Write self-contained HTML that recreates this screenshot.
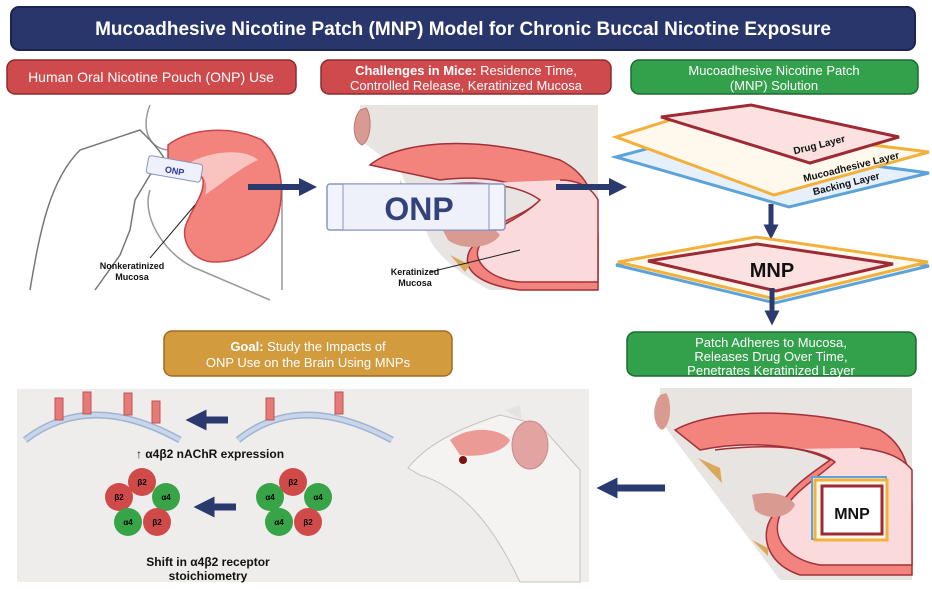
<!DOCTYPE html>
<html><head><style>
body{margin:0;background:#fff;width:932px;height:589px;overflow:hidden;font-family:"Liberation Sans",sans-serif}
svg{display:block}
text{font-family:"Liberation Sans",sans-serif}
</style></head><body>
<svg width="932" height="589" viewBox="0 0 932 589" xmlns="http://www.w3.org/2000/svg">
<defs>
<marker id="ah" viewBox="0 0 10 10" refX="5" refY="5" markerWidth="3" markerHeight="3" orient="auto"><path d="M0,0L10,5L0,10z" fill="#2a3a6e"/></marker>
</defs>
<!-- title -->
<rect x="11" y="7" width="904" height="43" rx="8" fill="#28366b" stroke="#1b2550" stroke-width="2"/>
<text x="463" y="35" text-anchor="middle" fill="#fff" font-size="19" font-weight="bold">Mucoadhesive Nicotine Patch (MNP) Model for Chronic Buccal Nicotine Exposure</text>
<!-- header boxes -->
<rect x="7" y="60" width="289" height="34" rx="8" fill="#cf4a4c" stroke="#8e2a2c" stroke-width="1.5"/>
<text x="151" y="82" text-anchor="middle" fill="#fff" font-size="14">Human Oral Nicotine Pouch (ONP) Use</text>
<rect x="321" y="60" width="290" height="34" rx="8" fill="#cf4a4c" stroke="#8e2a2c" stroke-width="1.5"/>
<text x="466" y="75" text-anchor="middle" fill="#fff" font-size="13"><tspan font-weight="bold">Challenges in Mice:</tspan> Residence Time,</text>
<text x="466" y="90" text-anchor="middle" fill="#fff" font-size="13">Controlled Release, Keratinized Mucosa</text>
<rect x="631" y="60" width="287" height="34" rx="8" fill="#33a14c" stroke="#1d6a30" stroke-width="1.5"/>
<text x="774" y="75" text-anchor="middle" fill="#fff" font-size="13">Mucoadhesive Nicotine Patch</text>
<text x="774" y="90" text-anchor="middle" fill="#fff" font-size="13">(MNP) Solution</text>

<!-- panel 1: human -->
<path d="M150,105 C140,130 150,150 170,150 M282,190 L282,290 M150,190 C140,220 170,260 200,270 L270,300" fill="none" stroke="#999" stroke-width="1.5"/>
<path d="M30,290 C40,230 50,180 80,150 L140,130 C150,140 160,150 165,160 L150,175 L135,200 L130,230 L120,255 L95,290" fill="#fff" stroke="#777" stroke-width="1.5"/>
<path d="M168,145 C190,128 230,125 262,140 C285,160 285,200 275,225 C265,250 240,262 215,262 C195,262 182,245 185,228 C190,210 205,195 203,180 C200,168 180,172 168,165 Z" fill="#f2837d" stroke="#c8464a" stroke-width="1.5"/>
<path d="M185,165 C210,150 245,148 258,160 C240,168 220,185 205,195 C210,180 200,170 185,165Z" fill="#f9c4c0"/>
<rect x="147" y="160" width="55" height="18" rx="3" fill="#eef1fb" stroke="#8a95c0" transform="rotate(10 175 169)"/>
<text x="175" y="174" text-anchor="middle" font-size="9" font-weight="bold" fill="#2a3a8a" transform="rotate(10 175 169)">ONP</text>
<line x1="150" y1="258" x2="195" y2="205" stroke="#222" stroke-width="1"/>
<text x="132" y="269" text-anchor="middle" font-size="9" font-weight="bold" fill="#111">Nonkeratinized</text>
<text x="132" y="280" text-anchor="middle" font-size="9" font-weight="bold" fill="#111">Mucosa</text>

<!-- panel 2: mouse mouth -->
<path d="M360,105 L598,105 L598,290 L490,290 C470,280 440,260 430,240 L400,170 L360,140 Z" fill="#e8e4e2"/>
<path d="M360,110 C352,120 352,140 362,145 C372,140 372,115 366,108Z" fill="#d99a92" stroke="#b77" />
<path d="M370,165 C400,140 480,135 560,160 C590,175 598,200 598,240 L598,290 L520,290 C480,285 460,270 470,250 C490,220 520,220 540,200 C520,180 480,175 440,180 Z" fill="#f2837d" stroke="#a23038" stroke-width="1.5"/>
<path d="M440,185 C480,180 520,185 540,200 C520,220 495,225 480,245 C470,260 490,280 520,282 L598,282 L598,200 C590,185 575,180 560,180" fill="#fadada" stroke="#a23038" stroke-width="1.5"/>
<path d="M440,225 C460,220 490,222 500,235 C490,250 460,250 448,240Z" fill="#d99a92"/>
<path d="M400,180 L410,200 L405,212Z M450,255 L470,265 L465,272Z" fill="#d9a85a"/>
<line x1="430" y1="272" x2="520" y2="250" stroke="#222" stroke-width="1"/>
<text x="415" y="275" text-anchor="middle" font-size="9" font-weight="bold" fill="#111">Keratinized</text>
<text x="415" y="286" text-anchor="middle" font-size="9" font-weight="bold" fill="#111">Mucosa</text>
<rect x="327" y="184" width="178" height="46" rx="3" fill="#f3f4fb" stroke="#8a95c0" stroke-width="1.5"/>
<rect x="343" y="184" width="146" height="46" fill="#eef0fa" stroke="#8a95c0" stroke-width="1"/>
<text x="419" y="220" text-anchor="middle" font-size="32" font-weight="bold" fill="#33427a">ONP</text>

<!-- arrows top -->
<line x1="248" y1="187" x2="308" y2="187" stroke="#2a3a6e" stroke-width="6" marker-end="url(#ah)"/>
<line x1="556" y1="187" x2="618" y2="187" stroke="#2a3a6e" stroke-width="6" marker-end="url(#ah)"/>

<!-- panel 3: layers -->
<polygon points="616,157 680,140 929,173 789,207" fill="#e6f0fa" stroke="#5ea3d8" stroke-width="3"/>
<polygon points="616,137 670,120 929,152 774,195" fill="#fff8ec" stroke="#f2b13d" stroke-width="3"/>
<polygon points="661,117 751,105 899,137 810,163" fill="#fbe2e0" stroke="#9e2a35" stroke-width="3"/>
<text x="820" y="148" text-anchor="middle" font-size="10" font-weight="bold" fill="#111" transform="rotate(-14 820 148)">Drug Layer</text>
<text x="852" y="170" text-anchor="middle" font-size="10" font-weight="bold" fill="#111" transform="rotate(-14 852 170)">Mucoadhesive Layer</text>
<text x="847" y="187" text-anchor="middle" font-size="10" font-weight="bold" fill="#111" transform="rotate(-14 847 187)">Backing Layer</text>
<line x1="771" y1="204" x2="771" y2="232" stroke="#2a3a6e" stroke-width="5" marker-end="url(#ah)"/>
<polygon points="616,265 756,240 929,266 775,303" fill="#e6f0fa" stroke="#5ea3d8" stroke-width="3"/>
<polygon points="618,262 756,237 928,262 775,299" fill="#fff8ec" stroke="#f2b13d" stroke-width="3"/>
<polygon points="648,261 757,244 893,264 776,291" fill="#fbe2e0" stroke="#9e2a35" stroke-width="3"/>
<text x="772" y="277" text-anchor="middle" font-size="20" font-weight="bold" fill="#111">MNP</text>
<line x1="772" y1="288" x2="772" y2="318" stroke="#2a3a6e" stroke-width="5" marker-end="url(#ah)"/>

<!-- second row boxes -->
<rect x="164" y="331" width="288" height="45" rx="8" fill="#d29b3d" stroke="#a36a22" stroke-width="1.5"/>
<text x="308" y="351" text-anchor="middle" fill="#fff" font-size="13"><tspan font-weight="bold">Goal:</tspan> Study the Impacts of</text>
<text x="308" y="367" text-anchor="middle" fill="#fff" font-size="13">ONP Use on the Brain Using MNPs</text>
<rect x="627" y="332" width="289" height="44" rx="8" fill="#33a14c" stroke="#1d6a30" stroke-width="1.5"/>
<text x="771" y="347" text-anchor="middle" fill="#fff" font-size="13">Patch Adheres to Mucosa,</text>
<text x="771" y="361" text-anchor="middle" fill="#fff" font-size="13">Releases Drug Over Time,</text>
<text x="771" y="375" text-anchor="middle" fill="#fff" font-size="13">Penetrates Keratinized Layer</text>

<!-- gray panel -->
<rect x="17" y="389" width="572" height="193" fill="#efedeb"/>
<path d="M25,440 Q90,390 180,440" fill="none" stroke="#9fb3d3" stroke-width="7"/>
<path d="M25,440 Q90,390 180,440" fill="none" stroke="#c9d6ea" stroke-width="4"/>
<path d="M238,440 Q300,390 392,440" fill="none" stroke="#9fb3d3" stroke-width="7"/>
<path d="M238,440 Q300,390 392,440" fill="none" stroke="#c9d6ea" stroke-width="4"/>
<g fill="#e77a76" stroke="#b55">
<rect x="55" y="398" width="8" height="22"/><rect x="83" y="392" width="8" height="22"/><rect x="124" y="393" width="8" height="22"/><rect x="152" y="401" width="8" height="22"/>
<rect x="266" y="398" width="8" height="22"/><rect x="335" y="392" width="8" height="22"/>
</g>
<line x1="228" y1="420" x2="196" y2="420" stroke="#2a3a6e" stroke-width="7" marker-end="url(#ah)"/>
<text x="210" y="458" text-anchor="middle" font-size="12" font-weight="bold" fill="#111">↑ α4β2 nAChR expression</text>
<g font-size="8" font-weight="bold" text-anchor="middle">
<circle cx="142" cy="482" r="14" fill="#d04a4a"/><circle cx="119" cy="497" r="14" fill="#d04a4a"/><circle cx="166" cy="497" r="14" fill="#36a447"/><circle cx="128" cy="522" r="14" fill="#36a447"/><circle cx="157" cy="522" r="14" fill="#d04a4a"/>
<text x="142" y="485">β2</text><text x="119" y="500">β2</text><text x="166" y="500">α4</text><text x="128" y="525">α4</text><text x="157" y="525">β2</text>
<circle cx="293" cy="482" r="14" fill="#d04a4a"/><circle cx="270" cy="497" r="14" fill="#36a447"/><circle cx="318" cy="497" r="14" fill="#36a447"/><circle cx="279" cy="522" r="14" fill="#36a447"/><circle cx="308" cy="522" r="14" fill="#d04a4a"/>
<text x="293" y="485">β2</text><text x="270" y="500">α4</text><text x="318" y="500">α4</text><text x="279" y="525">α4</text><text x="308" y="525">β2</text>
</g>
<line x1="236" y1="507" x2="204" y2="507" stroke="#2a3a6e" stroke-width="7" marker-end="url(#ah)"/>
<text x="208" y="566" text-anchor="middle" font-size="12" font-weight="bold" fill="#111">Shift in α4β2 receptor</text>
<text x="208" y="580" text-anchor="middle" font-size="12" font-weight="bold" fill="#111">stoichiometry</text>
<!-- mouse head -->
<path d="M408,468 C430,440 470,425 500,415 L540,425 L580,470 L580,582 L520,582 C500,540 470,490 420,475 Z" fill="#f5f3f1" stroke="#c8c2be"/>
<ellipse cx="530" cy="445" rx="18" ry="24" fill="#e2a4a0" stroke="#c88"/>
<path d="M450,440 C470,425 500,428 510,440 C505,452 480,458 460,455Z" fill="#eb9a95"/>
<circle cx="463" cy="460" r="4" fill="#7a1010"/>
<path d="M505,410 L520,405 L522,420Z" fill="#e6e2df"/>
<!-- mouse mouth 2 -->
<path d="M660,388 L912,388 L912,580 L780,580 L720,500 L660,420Z" fill="#e8e4e2"/>
<path d="M660,395 C652,405 652,425 662,430 C672,425 672,400 666,393Z" fill="#d99a92"/>
<path d="M675,430 C720,405 820,410 880,430 C905,445 912,470 912,510 L912,575 L800,575 C770,565 760,540 770,520 C790,485 810,475 830,460 C800,445 750,440 700,450 Z" fill="#f2837d" stroke="#a23038" stroke-width="1.5"/>
<path d="M715,450 C780,442 820,450 835,462 C815,480 795,490 780,515 C770,540 790,560 820,565 L912,565 L912,470 C900,455 880,450 860,448" fill="#fadada" stroke="#a23038" stroke-width="1.5"/>
<path d="M752,495 C770,490 790,495 795,505 C788,520 765,520 755,510Z" fill="#d99a92"/>
<path d="M698,458 L720,468 L722,483Z M752,540 L768,548 L768,556Z" fill="#d9a85a"/>
<rect x="812" y="477" width="74" height="62" fill="#e6f0fa" stroke="#5ea3d8" stroke-width="2"/>
<rect x="815" y="480" width="72" height="60" fill="#fff8ec" stroke="#f2b13d" stroke-width="3"/>
<rect x="822" y="486" width="60" height="48" fill="#fff" stroke="#9e2a35" stroke-width="3"/>
<text x="852" y="519" text-anchor="middle" font-size="16" font-weight="bold" fill="#111">MNP</text>
<line x1="665" y1="488" x2="607" y2="488" stroke="#2a3a6e" stroke-width="7" marker-end="url(#ah)"/>
</svg>
</body></html>
